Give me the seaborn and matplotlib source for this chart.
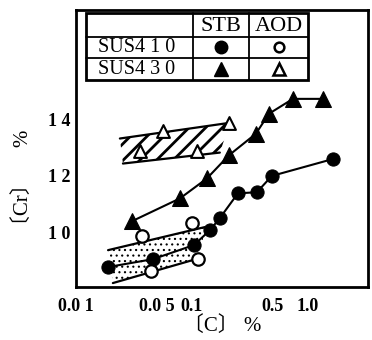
import numpy as np
import pandas as pd
import matplotlib
matplotlib.use("Agg")
import matplotlib.pyplot as plt
import seaborn as sns
from matplotlib.patches import Polygon, Rectangle

# ---------------- data ----------------
stb410_c = [0.0189, 0.0461, 0.104, 0.143, 0.174, 0.249, 0.363, 0.489, 1.64]
stb410_cr = [8.76, 9.04, 9.54, 10.07, 10.50, 11.38, 11.42, 12.0, 12.6]

stb430_c = [0.0304, 0.0788, 0.1346, 0.208, 0.356, 0.461, 0.743, 1.346]
stb430_cr = [10.39, 11.2, 11.91, 12.73, 13.5, 14.21, 14.74, 14.74]

aod410_c = [0.0371, 0.100, 0.0443, 0.1127]
aod410_cr = [9.86, 10.32, 8.62, 9.04]

aod430_c = [0.0356, 0.0562, 0.110, 0.208]
aod430_cr = [12.90, 13.61, 12.90, 13.89]

# band outlines (upper edge, lower edge) for AOD scatter regions
band430_top_c = [0.0239, 0.213]
band430_top_cr = [13.33, 13.89]
band430_bot_c = [0.0254, 0.174]
band430_bot_cr = [12.44, 12.83]

band410_top_c = [0.0189, 0.129]
band410_top_cr = [9.36, 10.18]
band410_bot_c = [0.0208, 0.117]
band410_bot_cr = [8.19, 9.08]

xticks = [0.01, 0.05, 0.1, 0.5, 1.0]
xticklabels = ["0.0 1", "0.0 5", "0.1", "0.5", "1.0"]
yticks = [10, 12, 14]
yticklabels = ["1 0", "1 2", "1 4"]

table_rows = ["SUS4 1 0", "SUS4 3 0"]
table_cols = ["STB", "AOD"]

# ---------------- style ----------------
sns.set_theme(style="white")
plt.rcParams["font.family"] = ["Liberation Serif", "Noto Sans CJK JP", "DejaVu Sans"]
plt.rcParams["hatch.linewidth"] = 2.0
plt.rcParams["hatch.color"] = "black"

fig = plt.figure(figsize=(3.72, 3.40), dpi=100)
ax = fig.add_axes([76 / 372, 53 / 340, 292 / 372, 277 / 340])
ax.set_xscale("log")

# bands
def band(tc, tcr, bc, bcr, hatch, hlw):
    verts = list(zip(tc, tcr)) + list(zip(bc[::-1], bcr[::-1]))
    p = Polygon(verts, closed=True, facecolor="none", edgecolor="black",
                linewidth=0, hatch=hatch, zorder=1)
    try:
        p.set_hatch_linewidth(hlw)
    except Exception:
        pass
    ax.add_patch(p)
    sns.lineplot(x=tc, y=tcr, color="black", linewidth=1.6, ax=ax, zorder=2)
    sns.lineplot(x=bc, y=bcr, color="black", linewidth=1.6, ax=ax, zorder=2)

band(band430_top_c, band430_top_cr, band430_bot_c, band430_bot_cr, "//", 2.0)
band(band410_top_c, band410_top_cr, band410_bot_c, band410_bot_cr, "...", 0.8)

# STB lines
sns.lineplot(x=stb410_c, y=stb410_cr, sort=False, estimator=None, color="black",
             linewidth=1.5, marker="o", markersize=9.5, markerfacecolor="black",
             markeredgecolor="black", ax=ax, zorder=4)
sns.lineplot(x=stb430_c, y=stb430_cr, sort=False, estimator=None, color="black",
             linewidth=1.5, marker="^", markersize=11, markerfacecolor="black",
             markeredgecolor="black", ax=ax, zorder=4)

# AOD points
sns.scatterplot(x=aod410_c, y=aod410_cr, marker="o", s=80, facecolor="white",
                edgecolor="black", linewidth=1.6, ax=ax, zorder=5)
sns.scatterplot(x=aod430_c, y=aod430_cr, marker="^", s=85, facecolor="white",
                edgecolor="black", linewidth=1.5, ax=ax, zorder=5)

ax.set_xlim(0.01, 3.3)
ax.set_ylim(8.05, 17.9)
ax.set_xticks(xticks)
ax.set_xticklabels(xticklabels, fontsize=13, fontweight="bold")
ax.set_yticks(yticks)
ax.set_yticklabels(yticklabels, fontsize=13, fontweight="bold")
ax.minorticks_off()
ax.tick_params(axis="both", direction="in", length=7, width=1.5, colors="black")
ax.tick_params(axis="x", pad=8)
ax.tick_params(axis="y", pad=4)
for s in ax.spines.values():
    s.set_visible(True)
    s.set_color("black")
    s.set_linewidth(2)

ax.set_xlabel("〔C〕 %", fontsize=15, labelpad=1, color="black")
ax.set_ylabel("〔Cr〕     %", fontsize=15, color="black")
ax.yaxis.set_label_coords(-0.147, 0.375)

# ---------------- table legend ----------------
T = ax.transAxes
x0, x1, x2, x3 = 0.034, 0.401, 0.592, 0.795
y0, y1, y2, y3 = 0.746, 0.827, 0.903, 0.989
ax.add_patch(Rectangle((x0, y0), x3 - x0, y3 - y0, transform=T, facecolor="white",
                       edgecolor="black", linewidth=2, zorder=6))
for xx in (x1, x2):
    ax.plot([xx, xx], [y0, y3], transform=T, color="black", lw=1.3, zorder=7)
for yy in (y1, y2):
    ax.plot([x0, x3], [yy, yy], transform=T, color="black", lw=1.3, zorder=7)
rc = [(y2 + y3) / 2, (y1 + y2) / 2, (y0 + y1) / 2]
cc = [(x1 + x2) / 2, (x2 + x3) / 2]
for j, name in enumerate(table_cols):
    ax.text(cc[j], rc[0] - 0.004, name, transform=T, ha="center", va="center",
            fontsize=16, color="black", zorder=8)
for i, name in enumerate(table_rows):
    ax.text(0.075, rc[i + 1], name, transform=T, ha="left", va="center",
            fontsize=14.5, color="black", zorder=8)
ax.plot([cc[0]], [rc[1]], transform=T, marker="o", ms=9, color="black", zorder=8)
ax.plot([cc[1]], [rc[1]], transform=T, marker="o", ms=7, mfc="white", mec="black",
        mew=1.8, zorder=8)
ax.plot([cc[0]], [rc[2]], transform=T, marker="^", ms=10, color="black", zorder=8)
ax.plot([cc[1]], [rc[2]], transform=T, marker="^", ms=8, mfc="white", mec="black",
        mew=1.8, zorder=8)

fig.savefig("out.png", dpi=100, facecolor="white")
